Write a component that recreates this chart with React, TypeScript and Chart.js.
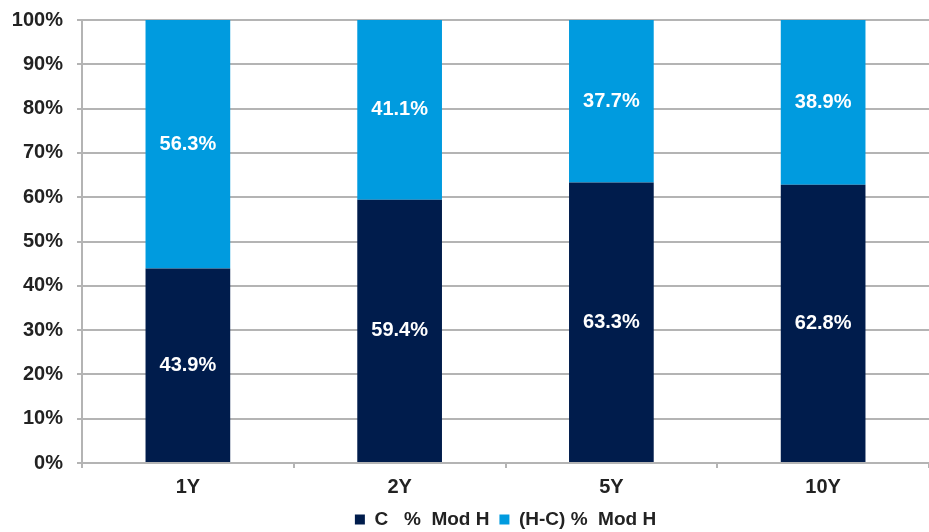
import React, { useEffect, useRef } from "react";
import { Chart, registerables } from "chart.js";

Chart.register(...registerables);

const categories = ["1Y", "2Y", "5Y", "10Y"];
const seriesNames = ["C   %  Mod H", "(H-C) %  Mod H"];
const cShare = [43.9, 59.4, 63.3, 62.8];
const hcShare = [56.3, 41.1, 37.7, 38.9];
const yTicks = [0, 10, 20, 30, 40, 50, 60, 70, 80, 90, 100];

const DARK = "#001c4c";
const LIGHT = "#009bdf";
const GRID = "#b4b4b4";
const FONT = "'Liberation Sans', Arial, sans-serif";

const labelPlugin = {
  id: "segLabels",
  afterDatasetsDraw(chart: any) {
    const { ctx, chartArea } = chart;
    ctx.save();
    ctx.fillStyle = "#ffffff";
    ctx.font = `bold 20px ${FONT}`;
    ctx.textAlign = "center";
    ctx.textBaseline = "middle";
    chart.data.datasets.forEach((ds: any, di: number) => {
      const meta = chart.getDatasetMeta(di);
      meta.data.forEach((el: any, i: number) => {
        const top = Math.max(Math.min(el.y, el.base), chartArea.top);
        const bottom = Math.min(Math.max(el.y, el.base), chartArea.bottom);
        const y = (top + bottom) / 2;
        ctx.fillText(ds.data[i].toFixed(1) + "%", el.x, y);
      });
    });
    ctx.restore();
  },
};

export default function App() {
  const ref = useRef<HTMLCanvasElement>(null);
  useEffect(() => {
    document.body.style.margin = "0";
    const chart = new Chart(ref.current!, {
      type: "bar",
      data: {
        labels: categories,
        datasets: [
          { label: seriesNames[0], data: cShare, backgroundColor: DARK, barPercentage: 0.8, categoryPercentage: 0.5 },
          { label: seriesNames[1], data: hcShare, backgroundColor: LIGHT, barPercentage: 0.8, categoryPercentage: 0.5 },
        ],
      },
      plugins: [labelPlugin],
      options: {
        animation: false,
        responsive: false,
        layout: { padding: { top: 20, left: 0, right: 0, bottom: -7 } },
        plugins: {
          tooltip: { enabled: false },
          legend: {
            position: "bottom",
            fullSize: false,
            labels: {
              boxWidth: 10,
              boxHeight: 10,
              padding: 10,
              color: "#222",
              font: { family: FONT, size: 19, weight: "bold" },
            },
          },
        },
        scales: {
          x: {
            stacked: true,
            grid: { offset: true, drawOnChartArea: false, drawTicks: true, tickLength: 5, color: GRID, lineWidth: 2 },
            border: { color: GRID, width: 2 },
            ticks: { color: "#222", font: { family: FONT, size: 20, weight: "bold" }, padding: 7 },
            afterFit: (s: any) => { s.height = 37; },
          },
          y: {
            stacked: true,
            min: 0,
            max: 100,
            afterBuildTicks: (s: any) => { s.ticks = yTicks.map((v) => ({ value: v })); },
            grid: { color: GRID, lineWidth: 2, drawTicks: true, tickLength: 5 },
            border: { color: GRID, width: 2 },
            ticks: {
              color: "#222",
              font: { family: FONT, size: 20, weight: "bold" },
              padding: 14,
              callback: (v: any) => v + "%",
            },
            afterFit: (s: any) => { s.width = 82; s.paddingTop = 0; s.paddingBottom = 0; },
          },
        },
      },
    });
    return () => chart.destroy();
  }, []);
  return (
    <div style={{ width: 929, height: 532 }}>
      <canvas ref={ref} width={929} height={532} style={{ width: 929, height: 532 }} />
    </div>
  );
}
